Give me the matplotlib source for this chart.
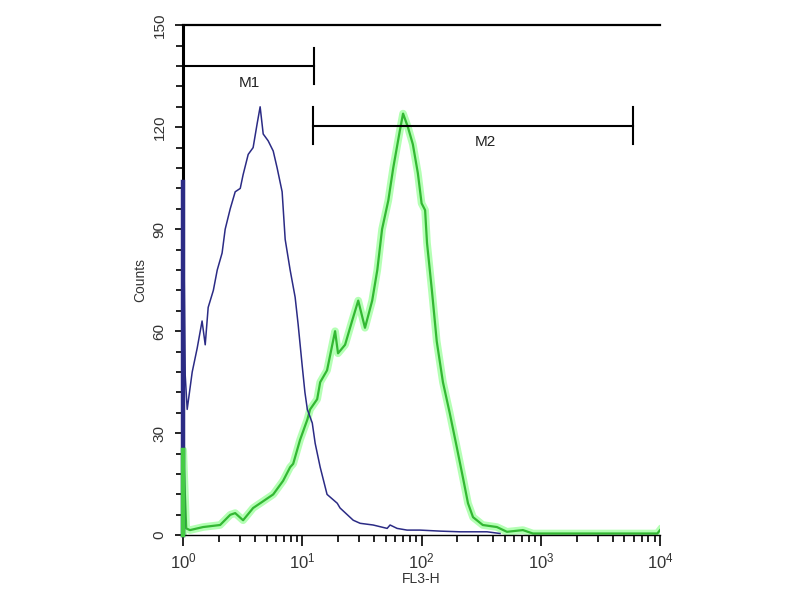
import numpy as np
import matplotlib
matplotlib.use("Agg")
import matplotlib.pyplot as plt
from matplotlib.ticker import LogLocator, MultipleLocator

plt.rcParams['font.family'] = ['Liberation Sans', 'DejaVu Sans']
plt.rcParams['mathtext.default'] = 'regular'

# isotype control (blue) - FL3-H values and counts
blue_x = [1.0, 1.0, 1.04, 1.08, 1.19, 1.31, 1.44, 1.53, 1.62, 1.79, 1.93, 2.12, 2.25,
          2.48, 2.73, 3.01, 3.18, 3.51, 3.86, 4.17, 4.42, 4.69, 5.16, 5.69, 6.14,
          6.76, 7.17, 7.89, 8.69, 9.21, 9.95, 10.5, 11.0, 12.1, 12.8, 14.1, 16.1,
          19.6, 20.7, 26.7, 30.5, 39.2, 51.4, 54.4, 62.3, 75.5, 97.1, 143, 210, 354, 455]
blue_y = [0, 104, 47, 37, 48, 55, 63, 56, 67, 72, 78, 83, 90,
          96, 101, 102, 106, 112, 114, 121, 126, 118, 116, 113, 108,
          101, 87, 78, 70, 62, 50, 42, 37, 33, 27, 20, 12,
          9.4, 8, 4.4, 3.5, 3, 2, 3, 2, 1.5, 1.5, 1.2, 1, 1, 0.5]

# stained sample (green)
green_x = [1.0, 1.0, 1.06, 1.14, 1.47, 2.04, 2.48, 2.73, 3.18, 3.86, 4.69, 5.69, 6.89,
           7.89, 8.37, 9.55, 11.0, 11.6, 13.3, 14.1, 16.1, 18.8, 19.9, 22.8, 26.1,
           29.4, 33.5, 38.5, 42.5, 46.6, 52.6, 57.8, 65.7, 69.9, 76.8, 84.4, 93.0,
           100, 107, 111, 122, 134, 151, 172, 197, 222, 245, 270, 326, 428, 520,
           708, 858, 3140, 9500, 10000]
green_y = [0, 25, 2, 1.5, 2.4, 3, 6, 6.5, 4.4, 8, 10, 12, 16,
           20, 21, 28, 34, 37, 40, 45, 48.5, 60, 53.5, 56, 63,
           69, 61, 69, 78, 90, 98.5, 108, 119, 124, 120, 115, 106.5,
           97.6, 95.6, 86, 72, 57, 45, 36, 26, 17, 9.4, 5.3, 3, 2.4, 1,
           1.5, 0.5, 0.5, 0.5, 1.5]

# marker gates
m1_lo, m1_hi, m1_y = 1.0, 12.4, 138
m2_lo, m2_hi, m2_y = 12.3, 5940, 120.5

fig = plt.figure(figsize=(8, 6), dpi=100)
ax = fig.add_axes([0.229, 0.108, 0.596, 0.85])

ax.plot(green_x, green_y, color='#8cff8c', lw=5.5, alpha=0.65, solid_joinstyle='round')
ax.plot(green_x, green_y, color='#33b833', lw=1.6)
ax.plot(blue_x, blue_y, color='#2b2b85', lw=1.1)

# first-channel spikes sit on top of the left axis line
ax.plot(blue_x[:2], blue_y[:2], color='#2b2b85', lw=3.2, clip_on=False, zorder=4)
ax.plot(green_x[:2], green_y[:2], color='#44cc44', lw=3.2, clip_on=False, zorder=5)

# gate bars
for lo, hi, yy, name, lx, ly in [(m1_lo, m1_hi, m1_y, 'M1', 3.6, 133),
                                 (m2_lo, m2_hi, m2_y, 'M2', 345, 115.5)]:
    ax.plot([lo, hi], [yy, yy], color='black', lw=1.5)
    ax.plot([hi, hi], [yy - 5.3, yy + 5.3], color='black', lw=1.5)
    if lo > 1:
        ax.plot([lo, lo], [yy - 5.3, yy + 5.3], color='black', lw=1.5)
    ax.text(lx, ly, name, ha='center', va='center', fontsize=11, color='#222222')

ax.set_xscale('log')
ax.set_xlim(1, 10000)
ax.set_ylim(0, 150)

ax.spines['right'].set_visible(False)
ax.spines['left'].set_linewidth(2.2)
ax.spines['top'].set_linewidth(1.6)
ax.spines['bottom'].set_linewidth(1.0)

ax.yaxis.set_major_locator(MultipleLocator(30))
ax.yaxis.set_minor_locator(MultipleLocator(6))
ax.xaxis.set_major_locator(LogLocator(base=10, numticks=10))
ax.xaxis.set_minor_locator(LogLocator(base=10, subs=np.arange(2, 10), numticks=10))

ax.tick_params(axis='y', which='major', direction='out', length=6, width=1.2,
               labelsize=11, labelcolor='#333333', pad=6)
ax.tick_params(axis='y', which='minor', direction='out', length=5, width=1.2)
ax.tick_params(axis='x', which='major', direction='out', length=8, width=1.2,
               labelsize=12, labelcolor='#333333', pad=4)
ax.tick_params(axis='x', which='minor', direction='out', length=5, width=1.2)
for lab in ax.get_yticklabels():
    lab.set_rotation(90)
    lab.set_va('center')

ax.set_ylabel('Counts', fontsize=10, color='#333333', labelpad=4)
ax.set_xlabel('FL3-H', fontsize=10, color='#333333', labelpad=0)

fig.savefig('out.png', dpi=100, facecolor='white')
